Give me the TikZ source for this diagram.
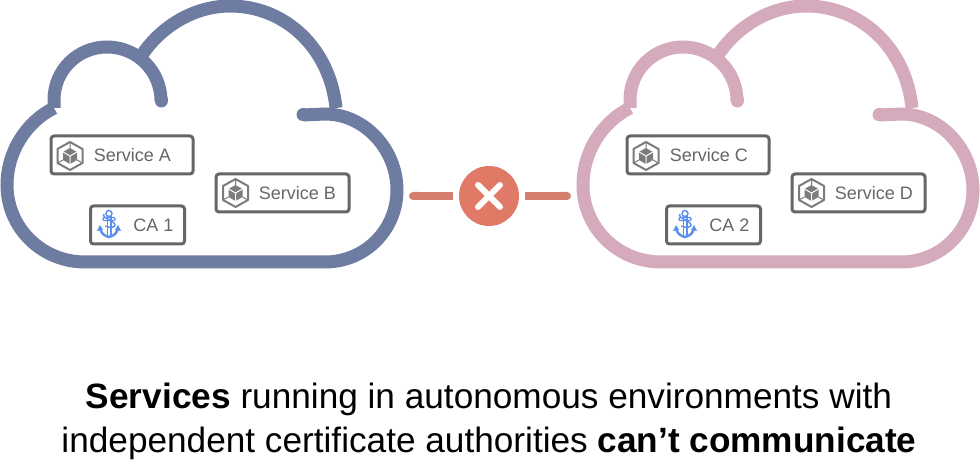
\documentclass[tikz,border=0pt]{standalone}
\usepackage{fontspec}
\setmainfont{Liberation Sans}
\usetikzlibrary{arrows.meta}

\definecolor{cloudblue}{HTML}{6E7CA2}
\definecolor{cloudpink}{HTML}{D4AABC}
\definecolor{boxgray}{HTML}{666666}
\definecolor{icongray}{HTML}{7C7C7C}
\definecolor{anchorblue}{HTML}{5B8FEF}
\definecolor{stopred}{HTML}{E07A66}
\definecolor{linkred}{HTML}{D47E6E}

\tikzset{
	svcbox/.style={draw=boxgray,line width=1.5pt,rounded corners=1.5pt,fill=white,minimum height=19pt,inner sep=0pt},
	svctext/.style={anchor=west,inner sep=0pt,text=boxgray,font=\fontsize{9}{11}\selectfont},
	link/.style={draw=linkred,line width=4pt},
	cloud/.pic={
		\path[pic actions,fill=none,line width=6.5pt] (54,108) -- (54,100) .. controls (54,70) and (78,47) .. (107,47)
			.. controls (137,47) and (161,71) .. (161,101);
		\path[pic actions,fill=none,line width=6.5pt] (140,58) .. controls (160,26) and (195,6) .. (230,6)
			.. controls (285,6) and (330,48) .. (336,108);
		\path[pic actions,fill=none,line width=6.5pt] (54,108) .. controls (26,122) and (7,152) .. (7,185)
			.. controls (7,228) and (42,262) .. (85,262) -- (325,262)
			.. controls (365,262) and (397,230) .. (397,190)
			.. controls (397,150) and (365,114) .. (325,114) -- (303,115);
		% round ends of the two hooks
		\path[pic actions,fill=none,line width=6.5pt,line cap=round] (161,100) -- (161,101) (304,115) -- (303,115);
	},
	cube/.pic={
		\draw[icongray,line width=1pt,line join=round] (0,-14) -- (12.5,-7) -- (12.5,7) -- (0,14) -- (-12.5,7) -- (-12.5,-7) -- cycle;
		\draw[icongray,line width=.5pt] (0,-14) -- (0,-8) (12.5,7) -- (7,4) (-12.5,7) -- (-7,4);
		\fill[icongray] (0,-8) -- (7,-4) -- (7,4) -- (0,8) -- (-7,4) -- (-7,-4) -- cycle;
		\draw[white,line width=.5pt] (-7,-4) -- (0,0) -- (7,-4) (0,0) -- (0,8);
	},
	anchorsign/.pic={
		\draw[anchorblue,line width=.7pt] (0,-10.5) circle (3);
		\draw[anchorblue,line width=.7pt,rounded corners=.5pt] (-6,-6.5) rectangle (6,-3.5);
		\draw[anchorblue,line width=.7pt] (-1.8,-7.5) -- (-1.8,12) (1.8,-7.5) -- (1.8,12);
		\draw[anchorblue,line width=.7pt] (-5,-10) .. controls (-8,-6) and (6,-3) .. (6,1) .. controls (6,4) and (0,4) .. (-4,2);
		\draw[anchorblue,line width=1.2pt] (-9,4) .. controls (-8,10) and (-4,12) .. (0,13) .. controls (4,12) and (8,10) .. (9,4);
		\fill[anchorblue] (-12,7) -- (-9,1) -- (-6,6) -- cycle (12,7) -- (9,1) -- (6,6) -- cycle;
	}
}

\begin{document}
\begin{tikzpicture}[x=0.5pt,y=-0.5pt]
	\useasboundingbox (0,0) rectangle (980,464);

	% clouds
	\pic[draw=cloudblue] at (0,0) {cloud};
	\pic[draw=cloudpink] at (576,0) {cloud};

	% left side
	\node[svcbox,minimum width=71pt] (svcA) at (122,155) {};
	\node[svcbox,minimum width=66.5pt] (svcB) at (282.5,193) {};
	\node[svcbox,minimum width=47pt] (caA) at (137.5,225) {};
	\pic at (70,156) {cube};
	\pic at (235.5,193) {cube};
	\pic at (109,224) {anchorsign};
	\node[svctext] (txtA) at ([xshift=22pt]svcA.west) {Service A};
	\node[svctext] (txtB) at ([xshift=22pt]svcB.west) {Service B};
	\node[svctext] (txtCa) at ([xshift=22pt]caA.west) {CA 1};

	% right side
	\node[svcbox,minimum width=71pt] (svcC) at (698,155) {};
	\node[svcbox,minimum width=66.5pt] (svcD) at (858.5,193) {};
	\node[svcbox,minimum width=47pt] (caB) at (713.5,225) {};
	\pic at (646,156) {cube};
	\pic at (811.5,193) {cube};
	\pic at (685,224) {anchorsign};
	\node[svctext] (txtC) at ([xshift=22pt]svcC.west) {Service C};
	\node[svctext] (txtD) at ([xshift=22pt]svcD.west) {Service D};
	\node[svctext] (txtCb) at ([xshift=22pt]caB.west) {CA 2};

	% link between the clouds
	\node[circle,fill=stopred,minimum size=30pt,inner sep=0pt,outer sep=3pt] (stop) at (489,196) {};
	\coordinate (endL) at (409,196);
	\coordinate (endR) at (571,196);
	\path[link,{Round Cap[]}-] (endL) -- (stop);
	\path[link,-{Round Cap[]}] (stop) -- (endR);
	\draw[white,line width=3pt,line cap=round] ([shift={(-11,-11)}]stop.center) -- ([shift={(11,11)}]stop.center)
		([shift={(-11,11)}]stop.center) -- ([shift={(11,-11)}]stop.center);

	% caption
	\node[align=center,inner sep=0pt,font=\fontsize{17.6}{22}\selectfont] (caption) at (489,421)
		{\textbf{Services} running in autonomous environments with\\independent certificate authorities \textbf{can’t communicate}};
\end{tikzpicture}
\end{document}
